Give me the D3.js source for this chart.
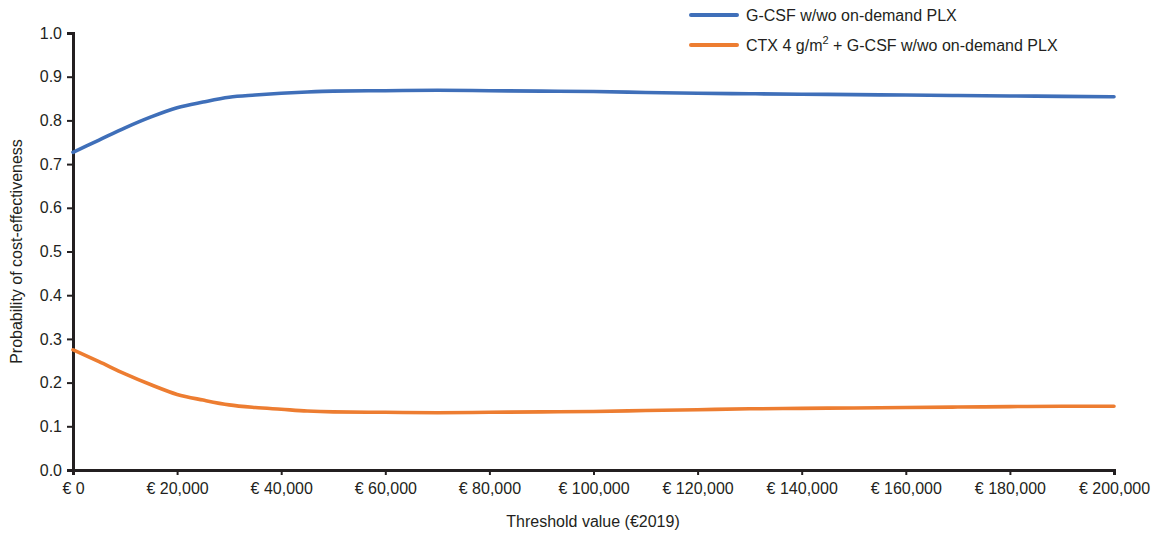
<!DOCTYPE html>
<html>
<head>
<meta charset="utf-8">
<script src="https://cdn.jsdelivr.net/npm/d3@7"></script>
<style>
  html, body { margin: 0; padding: 0; background: #fff; }
  svg { display: block; font-family: "Liberation Sans", Arial, sans-serif; }
</style>
</head>
<body>
<svg id="chart" width="1154" height="535"></svg>
<script>
// Thresholds (€)
const thresholds = [0, 5000, 10000, 15000, 20000, 25000, 30000, 35000, 40000, 45000, 50000,
  60000, 70000, 80000, 90000, 100000, 110000, 120000, 130000, 140000, 150000,
  160000, 170000, 180000, 190000, 200000];
// Probability of cost-effectiveness
const gcsfValues = [0.727, 0.755, 0.783, 0.808, 0.829, 0.842, 0.853, 0.858, 0.862, 0.865, 0.867,
  0.868, 0.869, 0.868, 0.867, 0.866, 0.864, 0.862, 0.861, 0.860, 0.859,
  0.858, 0.857, 0.856, 0.855, 0.854];
const ctxValues = [0.275, 0.248, 0.220, 0.195, 0.173, 0.160, 0.149, 0.143, 0.139, 0.135, 0.133,
  0.132, 0.131, 0.132, 0.133, 0.134, 0.136, 0.138, 0.140, 0.141, 0.142,
  0.143, 0.144, 0.145, 0.146, 0.146];
const xTicks = [0, 20000, 40000, 60000, 80000, 100000, 120000, 140000, 160000, 180000, 200000];
const yTicks = [0, 0.1, 0.2, 0.3, 0.4, 0.5, 0.6, 0.7, 0.8, 0.9, 1.0];
const seriesNames = ["G-CSF w/wo on-demand PLX", "CTX 4 g/m2 + G-CSF w/wo on-demand PLX"];
const seriesColors = ["#3F6FB9", "#ED7D31"];

const svg = d3.select("#chart");
const m = { left: 73, right: 1114, top: 33, bottom: 470 };
const x = d3.scaleLinear().domain([0, 200000]).range([m.left, m.right]);
const y = d3.scaleLinear().domain([0, 1]).range([m.bottom, m.top]);

const fmtEuro = v => "€ " + d3.format(",")(v);

// X axis
const xAxis = svg.append("g").attr("transform", `translate(0,${m.bottom})`)
  .call(d3.axisBottom(x).tickValues(xTicks).tickFormat(fmtEuro).tickSizeOuter(0).tickSize(5).tickPadding(8));
xAxis.select(".domain").attr("stroke", "#231f20").attr("stroke-width", 3);
xAxis.selectAll(".tick line").attr("stroke", "#231f20").attr("stroke-width", 2);
xAxis.selectAll(".tick text").attr("font-size", 16).attr("fill", "#231f20").attr("font-family", "Liberation Sans, Arial, sans-serif");

// Y axis
const yAxis = svg.append("g").attr("transform", `translate(${m.left},0)`)
  .call(d3.axisLeft(y).tickValues(yTicks).tickFormat(d3.format(".1f")).tickSizeOuter(0).tickSize(6).tickPadding(5));
yAxis.select(".domain").attr("stroke", "#231f20").attr("stroke-width", 3);
yAxis.selectAll(".tick line").attr("stroke", "#231f20").attr("stroke-width", 2);
yAxis.selectAll(".tick text").attr("font-size", 16).attr("fill", "#231f20").attr("font-family", "Liberation Sans, Arial, sans-serif");

// Axis titles
svg.append("text").attr("x", 593).attr("y", 527)
  .attr("text-anchor", "middle").attr("font-size", 16).attr("fill", "#231f20")
  .text("Threshold value (€2019)");
svg.append("text").attr("transform", `translate(22,${(m.top + m.bottom) / 2}) rotate(-90)`)
  .attr("text-anchor", "middle").attr("font-size", 16).attr("fill", "#231f20")
  .text("Probability of cost-effectiveness");

// Lines
const line = d3.line().x((d, i) => x(thresholds[i])).y(d => y(d)).curve(d3.curveMonotoneX);
[gcsfValues, ctxValues].forEach((vals, i) => {
  svg.append("path").datum(vals).attr("d", line)
    .attr("fill", "none").attr("stroke", seriesColors[i])
    .attr("stroke-width", 3.6).attr("stroke-linecap", "round").attr("stroke-linejoin", "round");
});

// Legend
const legendY = [15, 45];
seriesNames.forEach((name, i) => {
  const g = svg.append("g");
  g.append("line").attr("x1", 691).attr("x2", 737).attr("y1", legendY[i]).attr("y2", legendY[i])
    .attr("stroke", seriesColors[i]).attr("stroke-width", 4).attr("stroke-linecap", "round");
  const t = g.append("text").attr("x", 746).attr("y", legendY[i] + 6)
    .attr("font-size", 16).attr("fill", "#231f20");
  if (i === 1) {
    t.append("tspan").text("CTX 4 g/m");
    t.append("tspan").attr("dy", -7).attr("font-size", 11).text("2");
    t.append("tspan").attr("dy", 7).text(" + G-CSF w/wo on-demand PLX");
  } else {
    t.text(name);
  }
});
</script>
</body>
</html>
